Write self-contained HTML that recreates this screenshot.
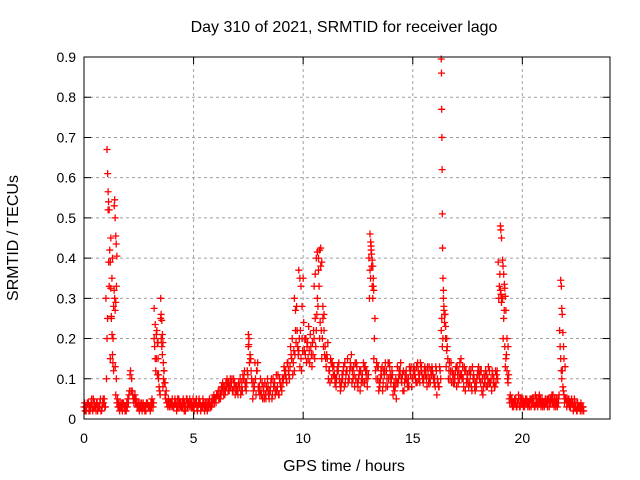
<!DOCTYPE html>
<html><head><meta charset="utf-8">
<style>
html,body{margin:0;padding:0;background:#fff;}
svg{display:block;font-family:"Liberation Sans",sans-serif;}
</style></head>
<body>
<svg id="chart" width="640" height="480" viewBox="0 0 640 480">
<rect x="0" y="0" width="640" height="480" fill="#fff"/>
<text x="344" y="32" font-size="16" text-anchor="middle">Day 310 of 2021, SRMTID for receiver lago</text>
<text x="344" y="471" font-size="16" text-anchor="middle">GPS time / hours</text>
<text x="18" y="238" font-size="16" text-anchor="middle" transform="rotate(-90 18 238)">SRMTID / TECUs</text>
<g id="grid"></g><g id="marks"></g><g id="axes"></g>
</svg>
<script>
const xTicks=[0,5,10,15,20];
const yTicks=[0,0.1,0.2,0.3,0.4,0.5,0.6,0.7,0.8,0.9];
const yTickLabels=["0","0.1","0.2","0.3","0.4","0.5","0.6","0.7","0.8","0.9"];
const baseStart=0, baseStep=0.1;
const baseValues=[0.03,0.02,0.04,0.03,0.02,0.03,0.04,0.03,0.02,0.04,
0.30,0.52,0.15,0.40,0.30,0.04,0.03,0.03,0.04,0.03,
0.05,0.11,0.07,0.05,0.04,0.03,0.03,0.04,0.03,0.04,
0.03,0.05,0.20,0.15,0.10,0.25,0.08,0.06,0.04,0.03,
0.04,0.03,0.04,0.03,0.04,0.03,0.04,0.05,0.03,0.04,
0.03,0.04,0.03,0.04,0.03,0.02,0.03,0.04,0.04,0.05,
0.05,0.06,0.07,0.07,0.08,0.08,0.09,0.08,0.07,0.06,
0.07,0.08,0.09,0.10,0.07,0.18,0.15,0.05,0.14,0.12,
0.08,0.06,0.07,0.05,0.08,0.07,0.06,0.09,0.07,0.06,
0.08,0.10,0.12,0.14,0.13,0.20,0.12,0.28,0.17,0.15,
0.35,0.16,0.19,0.14,0.13,0.20,0.22,0.40,0.38,0.25,
0.18,0.15,0.12,0.10,0.13,0.08,0.12,0.07,0.10,0.14,
0.12,0.10,0.16,0.13,0.10,0.08,0.07,0.11,0.09,0.12,
0.40,0.42,0.35,0.12,0.10,0.08,0.13,0.11,0.12,0.10,
0.09,0.06,0.08,0.13,0.11,0.09,0.07,0.12,0.10,0.11,
0.10,0.12,0.09,0.11,0.13,0.10,0.12,0.11,0.09,0.12,
0.10,0.06,0.08,0.22,0.30,0.20,0.15,0.10,0.12,0.09,
0.08,0.12,0.15,0.10,0.07,0.11,0.09,0.07,0.10,0.08,
0.13,0.09,0.06,0.10,0.08,0.12,0.07,0.10,0.09,0.39,
0.32,0.30,0.18,0.12,0.05,0.04,0.03,0.05,0.04,0.03,
0.04,0.03,0.05,0.04,0.03,0.04,0.06,0.03,0.04,0.05,
0.03,0.04,0.05,0.04,0.06,0.04,0.03,0.22,0.10,0.06,
0.05,0.04,0.03,0.04,0.03,0.02,0.03,0.03,0.02];
const altStart=0.05;
const altValues=[0.02,0.04,0.03,0.05,0.03,0.02,0.03,0.05,0.04,0.03,
0.20,0.33,0.25,0.28,0.06,0.03,0.04,0.02,0.03,0.04,
0.06,0.07,0.05,0.04,0.03,0.04,0.02,0.03,0.04,0.03,
0.04,0.03,0.15,0.11,0.07,0.18,0.12,0.07,0.05,0.04,
0.03,0.05,0.03,0.04,0.03,0.04,0.03,0.04,0.04,0.03,
0.04,0.03,0.05,0.03,0.04,0.03,0.04,0.03,0.05,0.04,
0.06,0.05,0.06,0.08,0.07,0.09,0.08,0.10,0.08,0.07,
0.09,0.06,0.11,0.08,0.12,0.14,0.10,0.09,0.06,0.08,
0.10,0.05,0.09,0.07,0.05,0.10,0.08,0.07,0.11,0.09,
0.10,0.12,0.09,0.11,0.16,0.14,0.22,0.18,0.13,0.20,
0.17,0.14,0.23,0.18,0.16,0.25,0.30,0.20,0.15,0.22,
0.13,0.10,0.15,0.13,0.09,0.12,0.10,0.09,0.13,0.11,
0.09,0.14,0.12,0.08,0.13,0.11,0.09,0.14,0.12,0.10,
0.37,0.33,0.20,0.14,0.07,0.12,0.09,0.14,0.08,0.13,
0.12,0.09,0.05,0.10,0.14,0.07,0.11,0.09,0.13,0.08,
0.13,0.09,0.12,0.14,0.10,0.13,0.08,0.13,0.11,0.10,
0.13,0.09,0.12,0.18,0.24,0.17,0.12,0.14,0.09,0.12,
0.11,0.14,0.10,0.13,0.09,0.08,0.12,0.10,0.07,0.11,
0.10,0.07,0.11,0.08,0.13,0.09,0.11,0.08,0.12,0.33,
0.29,0.25,0.15,0.09,0.06,0.03,0.05,0.03,0.05,0.04,
0.03,0.05,0.03,0.05,0.04,0.03,0.05,0.04,0.03,0.04,
0.05,0.03,0.04,0.06,0.03,0.05,0.04,0.15,0.08,0.05,
0.04,0.03,0.05,0.03,0.04,0.03,0.02,0.03];
const alt2Start=0.025;
const alt2Values=[0.04,0.03,0.02,0.04,0.05,0.03,0.02,0.04,0.03,0.05,
0.10,0.39,0.45,0.20,0.13,0.05,0.02,0.04,0.03,0.02,
0.04,0.12,0.06,0.06,0.03,0.02,0.04,0.03,0.02,0.03,
0.02,0.04,0.18,0.22,0.08,0.20,0.10,0.05,0.03,0.04,
0.05,0.04,0.02,0.05,0.03,0.05,0.02,0.03,0.05,0.03,
0.02,0.05,0.04,0.02,0.05,0.04,0.02,0.05,0.03,0.06,
0.04,0.07,0.05,0.09,0.06,0.10,0.07,0.09,0.10,0.08,
0.06,0.10,0.07,0.12,0.09,0.20,0.12,0.07,0.10,0.14,
0.06,0.09,0.05,0.08,0.06,0.09,0.10,0.06,0.08,0.10,
0.07,0.13,0.10,0.12,0.18,0.11,0.16,0.22,0.20,0.12,
0.24,0.20,0.15,0.21,0.19,0.15,0.26,0.33,0.22,0.18,
0.15,0.19,0.09,0.14,0.11,0.10,0.14,0.08,0.12,0.09,
0.15,0.12,0.09,0.11,0.14,0.10,0.12,0.09,0.13,0.08,
0.30,0.38,0.15,0.10,0.13,0.10,0.07,0.12,0.10,0.14,
0.10,0.08,0.10,0.09,0.12,0.11,0.09,0.10,0.08,0.13,
0.12,0.10,0.14,0.09,0.11,0.12,0.10,0.09,0.12,0.11,
0.08,0.10,0.13,0.25,0.27,0.13,0.10,0.12,0.11,0.10,
0.13,0.10,0.11,0.08,0.12,0.09,0.11,0.13,0.08,0.10,
0.11,0.12,0.08,0.12,0.10,0.09,0.12,0.08,0.11,0.30,
0.31,0.20,0.13,0.10,0.04,0.05,0.04,0.03,0.06,0.05,
0.05,0.04,0.04,0.03,0.05,0.05,0.04,0.05,0.05,0.03,
0.04,0.05,0.03,0.05,0.04,0.03,0.05,0.18,0.12,0.04,
0.03,0.05,0.04,0.02,0.03,0.04,0.03,0.02];
const alt3Start=0.075;
const alt3Values=[0.03,0.04,0.02,0.03,0.04,0.04,0.03,0.02,0.05,0.03,
0.25,0.42,0.35,0.32,0.10,0.04,0.03,0.04,0.02,0.03,
0.07,0.10,0.04,0.05,0.04,0.03,0.03,0.02,0.04,0.03,
0.03,0.04,0.12,0.19,0.06,0.16,0.09,0.04,0.04,0.03,
0.03,0.04,0.05,0.03,0.04,0.02,0.05,0.04,0.03,0.05,
0.04,0.02,0.04,0.03,0.03,0.04,0.03,0.03,0.04,0.05,
0.06,0.05,0.08,0.06,0.09,0.07,0.10,0.07,0.09,0.08,
0.08,0.07,0.10,0.09,0.11,0.16,0.09,0.08,0.12,0.07,
0.07,0.08,0.06,0.10,0.07,0.05,0.08,0.11,0.06,0.08,
0.09,0.11,0.14,0.10,0.15,0.17,0.19,0.16,0.22,0.17,
0.20,0.18,0.17,0.16,0.22,0.18,0.28,0.24,0.20,0.16,
0.16,0.12,0.14,0.11,0.10,0.13,0.09,0.11,0.08,0.12,
0.10,0.13,0.10,0.14,0.09,0.12,0.10,0.13,0.10,0.11,
0.35,0.30,0.25,0.13,0.09,0.11,0.12,0.08,0.14,0.11,
0.11,0.07,0.09,0.12,0.10,0.12,0.10,0.08,0.12,0.10,
0.11,0.13,0.10,0.12,0.09,0.11,0.13,0.10,0.13,0.09,
0.12,0.08,0.10,0.20,0.26,0.18,0.14,0.09,0.11,0.13,
0.09,0.11,0.13,0.12,0.10,0.12,0.08,0.11,0.09,0.12,
0.12,0.10,0.09,0.11,0.09,0.10,0.09,0.12,0.10,0.36,
0.30,0.27,0.16,0.11,0.05,0.04,0.04,0.04,0.03,0.05,
0.04,0.04,0.04,0.05,0.05,0.03,0.04,0.06,0.04,0.04,
0.04,0.05,0.05,0.04,0.05,0.04,0.06,0.12,0.07,0.05,
0.05,0.04,0.04,0.05,0.02,0.03,0.04,0.03];
const spikeTimes=[1.05,1.08,1.1,1.12,1.15,1.2,1.22,1.25,1.28,1.3,1.32,1.35,1.38,1.4,1.42,1.45,1.47,1.5,1.48,1.45,1.42,
3.2,3.25,3.3,3.35,3.38,3.4,3.5,3.52,3.55,3.58,3.6,3.62,3.65,3.7,
7.5,7.52,7.6,9.6,9.65,9.8,9.85,9.9,9.95,
10.5,10.55,10.6,10.65,10.7,10.75,10.8,10.85,10.9,10.95,
13.05,13.08,13.1,13.12,13.15,13.18,13.2,13.22,
16.3,16.31,16.32,16.33,16.34,16.35,16.36,16.38,16.4,16.42,16.45,16.5,16.55,
19.0,19.02,19.05,19.1,19.12,19.15,19.18,19.2,19.22,19.25,19.3,19.35,
21.75,21.78,21.8,21.82,21.85,21.88,21.9,21.95];
const spikeValues=[0.67,0.61,0.565,0.54,0.52,0.39,0.325,0.255,0.21,0.16,0.14,0.12,0.53,0.545,0.5,0.455,0.435,0.405,0.33,0.29,0.27,
0.275,0.235,0.21,0.19,0.15,0.11,0.30,0.26,0.245,0.21,0.19,0.14,0.12,0.09,
0.21,0.185,0.15,0.30,0.27,0.37,0.35,0.33,0.28,
0.33,0.36,0.40,0.415,0.37,0.42,0.425,0.39,0.28,0.26,
0.46,0.44,0.43,0.41,0.395,0.38,0.33,0.32,
0.895,0.86,0.77,0.70,0.62,0.51,0.425,0.35,0.32,0.28,0.26,0.23,0.20,
0.48,0.47,0.45,0.395,0.38,0.36,0.335,0.325,0.305,0.27,0.2,0.18,
0.345,0.33,0.275,0.26,0.215,0.18,0.15,0.13];

const L=84,R=610,T=57,B=419,XMAX=24,YMAX=0.9;
const sx=v=>L+(R-L)*v/XMAX;
const sy=v=>B-(B-T)*v/YMAX;
const NS="http://www.w3.org/2000/svg";
const grid=document.getElementById('grid'),marks=document.getElementById('marks'),axes=document.getElementById('axes');
function mk(tag,attrs,parent){const e=document.createElementNS(NS,tag);for(const k in attrs)e.setAttribute(k,attrs[k]);parent.appendChild(e);return e;}
xTicks.forEach(t=>{
  const x=sx(t);
  if(t>0){const g=mk('line',{x1:x,x2:x,y1:T,y2:B,stroke:'#a0a0a0','stroke-dasharray':'3,3','stroke-width':1},grid);
  
  }
  const tk=mk('path',{d:`M${x},${B}v-7M${x},${T}v7`,stroke:'#000','stroke-width':1},axes);
  
  
  const lb=mk('text',{x:x,y:B+24,'font-size':14,'text-anchor':'middle'},axes);lb.textContent=t;
  
  
});
yTicks.forEach((t,i)=>{
  const y=sy(t);
  if(i>0&&i<yTicks.length-1){const g=mk('line',{x1:L,x2:R,y1:y,y2:y,stroke:'#a0a0a0','stroke-dasharray':'3,3','stroke-width':1},grid);
  
  }
  const tk=mk('path',{d:`M${L},${y}h7M${R},${y}h-7`,stroke:'#000','stroke-width':1},axes);
  
  
  const lb=mk('text',{x:L-8,y:y+5,'font-size':14,'text-anchor':'end'},axes);lb.textContent=yTickLabels[i];
  
  
});
const frame=mk('rect',{x:L,y:T,width:R-L,height:B-T,fill:'none',stroke:'#000','stroke-width':1},axes);


function plus(t,v){
  const x=sx(t),y=sy(v);
  const p=mk('path',{d:`M${x-3.5},${y}h7M${x},${y-3.5}v7`,stroke:'#ff0000','stroke-width':1.3,fill:'none'},marks);
  
  
}
baseValues.forEach((v,i)=>plus(baseStart+i*baseStep,v));
altValues.forEach((v,i)=>plus(altStart+i*baseStep,v));
alt2Values.forEach((v,i)=>plus(alt2Start+i*baseStep,v));
alt3Values.forEach((v,i)=>plus(alt3Start+i*baseStep,v));
spikeTimes.forEach((t,i)=>plus(t,spikeValues[i]));
</script>
</body></html>
